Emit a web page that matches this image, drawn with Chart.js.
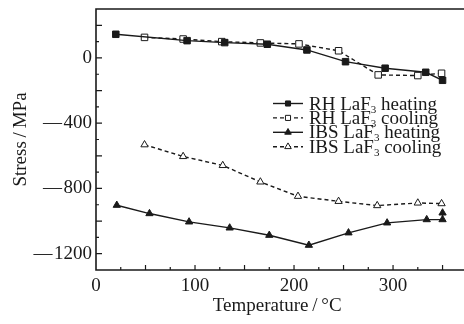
<!DOCTYPE html>
<html>
<head>
<meta charset="utf-8">
<script src="https://cdn.jsdelivr.net/npm/chart.js@4.4.0/dist/chart.umd.min.js"></script>
<style>
  html, body { margin: 0; padding: 0; background: #fff; overflow: hidden; }
  #wrap { width: 464px; height: 324px; }
</style>
</head>
<body>
<div id="wrap"><canvas id="chart" width="464" height="324"></canvas></div>
<script>
// values (temperature in °C, stress in MPa)
const rhHeatT = [20, 92, 130, 173, 213, 252, 292, 333, 350];
const rhHeatS = [145, 106, 94, 84, 49, -23, -63, -88, -137];
const rhCoolT = [49, 88, 127, 166, 205, 245, 285, 325, 349];
const rhCoolS = [126, 116, 100, 92, 86, 44, -104, -108, -94];
const ibsHeatT = [21, 54, 94, 135, 175, 215, 255, 294, 334, 350, 350];
const ibsHeatS = [-903, -954, -1005, -1042, -1087, -1148, -1072, -1011, -991, -991, -950];
const ibsCoolT = [49, 88, 128, 166, 204, 245, 284, 325, 349];
const ibsCoolS = [-532, -604, -659, -760, -848, -879, -905, -889, -893];

const seriesNames = ['RH LaF₃ heating', 'RH LaF₃ cooling', 'IBS LaF₃ heating', 'IBS LaF₃ cooling'];
const xTickLabels = [0, 100, 200, 300];
const yTickLabels = [0, -400, -800, -1200];

const SERIF = "'Liberation Serif', 'Times New Roman', serif";
const INK = '#1a1a1a';

function pts(xs, ys) {
  return xs.map((x, i) => ({ x: x, y: ys[i] }));
}

function series(label, xs, ys, style, filled, dashed) {
  return {
    label: label,
    data: pts(xs, ys),
    borderColor: INK,
    borderWidth: 1.4,
    borderDash: dashed ? [4, 3] : [],
    pointStyle: style,
    pointRadius: style === 'rect' ? 4.6 : 4.2,
    pointBorderWidth: 1,
    pointBorderColor: INK,
    pointBackgroundColor: filled ? INK : '#fff',
    tension: 0,
    fill: false
  };
}

// inward tick marks and the open frame (no right edge in the figure)
const frameTicks = {
  id: 'frameTicks',
  afterDraw(chart) {
    const { ctx, chartArea: a, scales: { x, y } } = chart;
    ctx.save();
    ctx.strokeStyle = INK;
    ctx.lineWidth = 1.6;
    ctx.beginPath();
    ctx.moveTo(chart.width, a.top);
    ctx.lineTo(a.left, a.top);
    ctx.lineTo(a.left, a.bottom);
    ctx.lineTo(chart.width, a.bottom);
    ctx.stroke();

    ctx.lineWidth = 1.2;
    ctx.beginPath();
    for (let v = 25; v < x.max; v += 25) {
      const px = x.getPixelForValue(v);
      const len = v % 50 === 0 ? 5 : 3;
      ctx.moveTo(px, a.bottom);
      ctx.lineTo(px, a.bottom - len);
    }
    for (let v = -1200; v < y.max; v += 100) {
      const py = y.getPixelForValue(v);
      const len = v % 200 === 0 ? 6 : 3;
      ctx.moveTo(a.left, py);
      ctx.lineTo(a.left + len, py);
    }
    ctx.stroke();
    ctx.restore();
  }
};

// legend drawn inside the plot, with a real subscript for LaF3
const legendBox = {
  id: 'legendBox',
  afterDraw(chart) {
    const { ctx, chartArea: a } = chart;
    const x0 = a.left + 177;
    const y0 = a.top + 94.5;
    const rowGap = 14.4;
    ctx.save();
    chart.data.datasets.forEach((ds, i) => {
      const y = y0 + i * rowGap;
      ctx.strokeStyle = INK;
      ctx.lineWidth = 1.4;
      ctx.setLineDash(ds.borderDash);
      ctx.beginPath();
      ctx.moveTo(x0, y);
      ctx.lineTo(x0 + 30, y);
      ctx.stroke();
      ctx.setLineDash([]);
      ctx.fillStyle = ds.pointBackgroundColor;
      ctx.lineWidth = 1;
      Chart.helpers.drawPoint(ctx, {
        pointStyle: ds.pointStyle,
        radius: ds.pointStyle === 'rect' ? 3.6 : 3.8,
        borderWidth: 1,
        rotation: 0
      }, x0 + 15, y);

      const parts = ds.label.split('₃');
      let tx = x0 + 36;
      const base = y + 6;
      ctx.fillStyle = INK;
      ctx.textBaseline = 'alphabetic';
      ctx.textAlign = 'left';
      ctx.font = '19px ' + SERIF;
      ctx.fillText(parts[0], tx, base);
      tx += ctx.measureText(parts[0]).width;
      ctx.font = '11px ' + SERIF;
      ctx.fillText('3', tx, base + 3);
      tx += ctx.measureText('3').width;
      ctx.font = '19px ' + SERIF;
      ctx.fillText(parts[1], tx, base);
    });
    ctx.restore();
  }
};

const ctx = document.getElementById('chart').getContext('2d');
new Chart(ctx, {
  type: 'line',
  data: {
    datasets: [
      series(seriesNames[0], rhHeatT, rhHeatS, 'rect', true, false),
      series(seriesNames[1], rhCoolT, rhCoolS, 'rect', false, true),
      series(seriesNames[2], ibsHeatT, ibsHeatS, 'triangle', true, false),
      series(seriesNames[3], ibsCoolT, ibsCoolS, 'triangle', false, true)
    ]
  },
  options: {
    responsive: false,
    animation: false,
    layout: { padding: { top: 9, right: 0, left: 0, bottom: 0 } },
    plugins: {
      legend: { display: false },
      tooltip: { enabled: false }
    },
    scales: {
      x: {
        type: 'linear',
        min: 0,
        max: 366,
        grid: { display: false, drawTicks: false },
        border: { display: false },
        afterFit(scale) {
          scale.height = 54;
          scale.paddingRight = 0;
          scale.paddingLeft = 0;
        },
        ticks: {
          stepSize: 100,
          padding: 5,
          autoSkip: false,
          color: INK,
          font: { family: SERIF, size: 19 },
          maxRotation: 0,
          callback: (v) => xTickLabels.includes(v) ? String(v) : ''
        },
        title: {
          display: true,
          text: 'Temperature\u2009/\u2009°C',
          color: INK,
          font: { family: SERIF, size: 19 },
          padding: { top: 0, bottom: 7 }
        }
      },
      y: {
        type: 'linear',
        min: -1300,
        max: 300,
        grid: { display: false, drawTicks: false },
        border: { display: false },
        afterFit(scale) {
          scale.width = 96;
          scale.paddingTop = 0;
          scale.paddingBottom = 0;
        },
        ticks: {
          stepSize: 100,
          padding: 4,
          autoSkip: false,
          color: INK,
          font: { family: SERIF, size: 19 },
          callback: (v) => yTickLabels.includes(v) ? (v < 0 ? '\u2014\u200a' + Math.abs(v) : String(v)) : ''
        },
        title: {
          display: true,
          text: 'Stress\u2009/\u2009MPa',
          color: INK,
          font: { family: SERIF, size: 19 },
          padding: { top: 10, bottom: 0 }
        }
      }
    }
  },
  plugins: [frameTicks, legendBox]
});
</script>
</body>
</html>
